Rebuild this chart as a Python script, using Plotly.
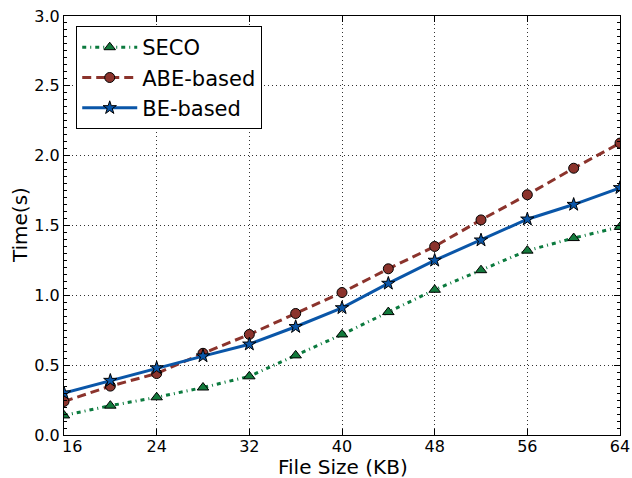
import plotly.graph_objects as go

file_size = [16, 20, 24, 28, 32, 36, 40, 44, 48, 52, 56, 60, 64]
seco = [0.14, 0.21, 0.27, 0.34, 0.42, 0.57, 0.72, 0.88, 1.04, 1.18, 1.32, 1.41, 1.49]
abe_based = [0.24, 0.35, 0.44, 0.585, 0.72, 0.87, 1.02, 1.19, 1.35, 1.54, 1.72, 1.91, 2.09]
be_based = [0.30, 0.39, 0.48, 0.565, 0.65, 0.775, 0.91, 1.085, 1.25, 1.395, 1.545, 1.65, 1.77]
x_ticks = [16, 24, 32, 40, 48, 56, 64]
y_ticks = [0.0, 0.5, 1.0, 1.5, 2.0, 2.5, 3.0]

font = "DejaVu Sans"
fig = go.Figure()
fig.add_trace(go.Scatter(
    x=file_size, y=seco, name="SECO", mode="lines+markers",
    line=dict(color="#0b7a3e", width=3, dash="4px,4px,1px,4px"),
    marker=dict(symbol="triangle-up", size=10, color="#137a3c",
                line=dict(color="black", width=1))))
fig.add_trace(go.Scatter(
    x=file_size, y=abe_based, name="ABE-based", mode="lines+markers",
    line=dict(color="#8b332c", width=3, dash="9px,5px"),
    marker=dict(symbol="circle", size=10, color="#8b332c",
                line=dict(color="black", width=1))))
fig.add_trace(go.Scatter(
    x=file_size, y=be_based, name="BE-based", mode="lines+markers",
    line=dict(color="#0a56a8", width=3),
    marker=dict(symbol="star", size=10, color="#0a56a8",
                line=dict(color="black", width=1))))

axis_common = dict(
    showline=True, linecolor="black", linewidth=1, mirror="allticks",
    ticks="inside", ticklen=6, tickcolor="black",
    showgrid=True, gridcolor="#333333", gridwidth=1, griddash="1px,3px",
    zeroline=False, automargin=False,
    tickfont=dict(family=font, size=16, color="black"),
)
# first x tick label is drawn as a nudged annotation (as in the reference)
x_tick_text = [""] + [str(v) for v in x_ticks[1:]]
fig.update_xaxes(range=[16, 64], tickvals=x_ticks, ticktext=x_tick_text,
                 ticklabelstandoff=-3, **axis_common)
fig.update_yaxes(range=[0, 3.0], tickvals=y_ticks, ticktext=[f"{v:.1f}" for v in y_ticks],
                 minor=dict(ticks="inside", dtick=0.05, ticklen=3, tickcolor="black", showgrid=False),
                 **axis_common)
fig.add_annotation(text=str(x_ticks[0]), xref="x", yref="y", x=x_ticks[0], y=y_ticks[0],
                   xanchor="center", yanchor="middle", xshift=8, yshift=-11,
                   showarrow=False, font=dict(family=font, size=16, color="black"))
fig.add_annotation(text="File Size (KB)", xref="paper", yref="paper",
                   x=0.502, y=-0.077, xanchor="center", yanchor="middle",
                   showarrow=False, font=dict(family=font, size=20, color="black"))
fig.add_annotation(text="Time(s)", xref="paper", yref="paper",
                   x=-0.0791, y=0.501, xanchor="center", yanchor="middle", textangle=-90,
                   showarrow=False, font=dict(family=font, size=20, color="black"))
fig.update_layout(
    width=632, height=478,
    margin=dict(l=64, r=12, t=16, b=43),
    plot_bgcolor="white", paper_bgcolor="white",
    font=dict(family=font, color="black"),
    legend=dict(x=0.022, y=0.976, xanchor="left", yanchor="top",
                bordercolor="black", borderwidth=1, bgcolor="white",
                font=dict(family=font, size=21, color="black"),
                itemwidth=55, tracegroupgap=0),
    showlegend=True,
)
fig.write_html("out.html")
